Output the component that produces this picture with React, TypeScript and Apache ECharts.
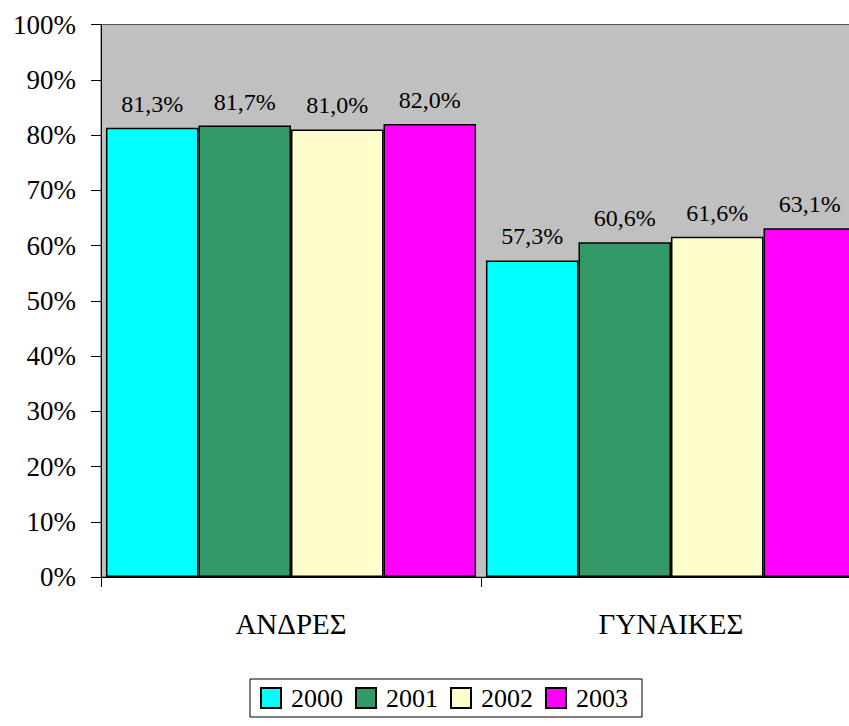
import React, { useEffect, useRef } from "react";
import * as echarts from "echarts";

const categories = ["ΑΝΔΡΕΣ", "ΓΥΝΑΙΚΕΣ"];
const years = ["2000", "2001", "2002", "2003"];
const values2000 = [81.3, 57.3];
const values2001 = [81.7, 60.6];
const values2002 = [81.0, 61.6];
const values2003 = [82.0, 63.1];
const colors = ["#00FFFF", "#339966", "#FFFFCC", "#FF00FF"];

const FONT = "Times New Roman, Liberation Serif, serif";

export default function App() {
  const ref = useRef<HTMLDivElement>(null);
  useEffect(() => {
    if (!ref.current) return;
    const chart = echarts.init(ref.current, null, { renderer: "svg" });
    const seriesValues = [values2000, values2001, values2002, values2003];
    chart.setOption({
      animation: false,
      backgroundColor: "#ffffff",
      textStyle: { fontFamily: FONT },
      grid: {
        left: 101,
        top: 24.5,
        width: 760,
        bottom: 149,
        show: true,
        backgroundColor: "#C0C0C0",
        borderColor: "#555555",
        borderWidth: 1,
      },
      legend: {
        data: years,
        left: 250,
        top: 679,
        orient: "horizontal",
        icon: "rect",
        itemWidth: 20,
        itemHeight: 20,
        itemGap: 12,
        borderColor: "#000",
        borderWidth: 1,
        padding: [6, 14, 6, 10],
        textStyle: {
          fontFamily: FONT,
          fontSize: 26,
          color: "#000",
          padding: [0, 0, 0, 5],
        },
      },
      xAxis: {
        type: "category",
        data: categories,
        axisLine: { show: true, lineStyle: { color: "#000", width: 1 } },
        axisTick: { show: true, length: 10, lineStyle: { color: "#000" } },
        axisLabel: {
          fontFamily: FONT,
          fontSize: 29,
          color: "#000",
          margin: 32,
        },
        splitLine: { show: false },
      },
      yAxis: {
        type: "value",
        min: 0,
        max: 100,
        interval: 10,
        axisLine: { show: true, lineStyle: { color: "#000", width: 1 } },
        axisTick: { show: true, length: 10, lineStyle: { color: "#000" } },
        axisLabel: {
          fontFamily: FONT,
          fontSize: 27,
          color: "#000",
          margin: 25,
          formatter: "{value}%",
        },
        splitLine: { show: false },
      },
      series: years.map((y, i) => ({
        name: y,
        type: "bar",
        data: seriesValues[i],
        barGap: "0%",
        barCategoryGap: "2.6%",
        itemStyle: {
          color: colors[i],
          borderColor: "#000",
          borderWidth: 1.5,
        },
        label: {
          show: true,
          position: "top",
          distance: 12,
          fontFamily: FONT,
          fontSize: 24,
          color: "#000",
          formatter: (p: any) => p.value.toFixed(1).replace(".", ",") + "%",
        },
      })),
    });
    return () => chart.dispose();
  }, []);
  return (
    <div
      style={{
        position: "absolute",
        left: 0,
        top: 0,
        width: 849,
        height: 726,
        overflow: "hidden",
      }}
    >
      <div ref={ref} style={{ width: 880, height: 726 }} />
    </div>
  );
}
